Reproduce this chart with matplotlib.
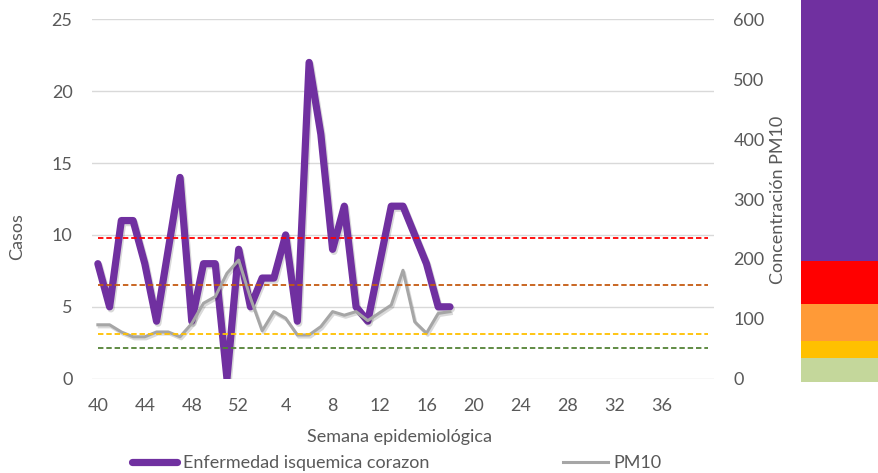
import matplotlib.pyplot as plt
import matplotlib.patheffects as pe

plt.rcParams['font.family'] = ['Lato', 'DejaVu Sans']

# semanas epidemiologicas 40-52 y 1-40
weeks = list(range(40, 53)) + list(range(1, 41))

casos = [8, 5, 11, 11, 8, 4, 9, 14, 4, 8, 8, 0, 9, 5, 7, 7, 10, 4, 22, 17,
         9, 12, 5, 4, 8, 12, 12, 10, 8, 5, 5]
pm10 = [90, 90, 78, 70, 70, 78, 78, 70, 92, 126, 137, 176, 198, 135, 80, 112,
        101, 73, 73, 87, 112, 106, 112, 97, 110, 123, 181, 95, 76, 109, 112]

# limites de referencia PM10 (lineas punteadas)
limits = [235, 156, 74, 52]
limit_colors = ['#FF0000', '#C55A11', '#FFC000', '#548235']

# bandas de color a la derecha
band_bottom = [-6, 35, 63, 125, 196]
band_top = [35, 63, 125, 196, 640]
band_colors = ['#C4D79B', '#FFC000', '#FF9A37', '#FF0000', '#7030A0']

txt = '#595959'
W, H = 879, 473

fig = plt.figure(figsize=(W / 100, H / 100), dpi=100)
ax = fig.add_axes([92 / W, 1 - 378.7 / H, 622 / W, 359.4 / H])
ax2 = ax.twinx()

x = list(range(len(weeks)))
shadow = [pe.SimpleLineShadow(offset=(1, -1.5), shadow_color='black', alpha=0.15), pe.Normal()]

ax.plot(x[:len(casos)], casos, color='#7030A0', lw=5.2, solid_joinstyle='round',
        solid_capstyle='round', path_effects=shadow, zorder=3)
ax2.plot(x[:len(pm10)], pm10, color='#A6A6A6', lw=2.2, solid_joinstyle='round',
         path_effects=shadow, zorder=3)
for val, c in zip(limits, limit_colors):
    ax2.plot([x[0], x[-1]], [val, val], color=c, lw=1.3, ls=(0, (3, 1.6)), zorder=4)

ax.set_xlim(-0.5, len(weeks) - 0.5)
ax.set_ylim(0, 25)
ax2.set_ylim(0, 600)
ax.set_yticks(range(0, 26, 5))
ax2.set_yticks(range(0, 601, 100))
ax.set_xticks(x[0:49:4])
ax.set_xticklabels([str(w) for w in weeks[0:49:4]])

ax.grid(axis='y', color='#D9D9D9', lw=1)
ax.set_axisbelow(True)
for a in (ax, ax2):
    for s in a.spines.values():
        s.set_visible(False)
    a.tick_params(length=0, labelsize=13, labelcolor=txt)
ax.tick_params(axis='y', pad=14)
ax.tick_params(axis='x', pad=14)
ax2.tick_params(axis='y', pad=14)

fig.text(17 / W, 1 - 237 / H, 'Casos', rotation=90, ha='center', va='center',
         fontsize=13, color=txt)
fig.text(778 / W, 1 - 200 / H, 'Concentración PM10', rotation=90, ha='center',
         va='center', fontsize=13, color=txt)
fig.text(400 / W, 1 - 437 / H, 'Semana epidemiológica', ha='center', va='center',
         fontsize=13, color=txt)

# bloques de color
axb = fig.add_axes([801 / W, 1 - 378.7 / H, 78 / W, 359.4 / H])
axb.bar([0] * len(band_colors), [t - b for t, b in zip(band_top, band_bottom)],
        bottom=band_bottom, color=band_colors, width=1, clip_on=False)
axb.set_xlim(-0.5, 0.5)
axb.set_ylim(0, 600)
axb.axis('off')

h1, = ax.plot([], [], color='#7030A0', lw=5.2, solid_capstyle='round')
h2, = ax.plot([], [], color='#A6A6A6', lw=2.2)
fig.legend([h1, h2], ['Enfermedad isquemica corazon', 'PM10'], loc='center left',
           bbox_to_anchor=(132 / W, 1 - 463 / H), ncol=2, frameon=False,
           fontsize=13, labelcolor=txt, handlelength=2.5, handletextpad=0.3,
           columnspacing=7.4, borderpad=0, borderaxespad=0)

fig.savefig('out.png', dpi=100)
